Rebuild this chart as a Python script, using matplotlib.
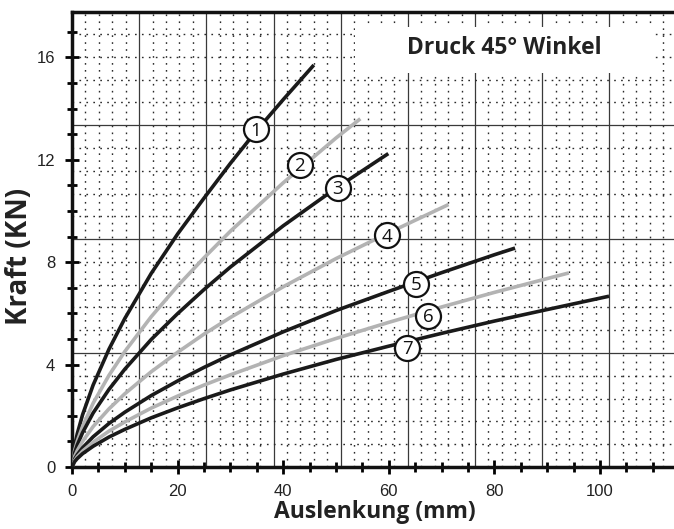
import matplotlib.pyplot as plt
from matplotlib.patches import Rectangle
from matplotlib.ticker import MultipleLocator

# curves (Auslenkung in mm, Kraft in kN)
x1 = [0, 0.5, 1, 2, 4, 7, 10, 15, 20, 25, 30, 35, 40, 45.8]
f1 = [0, 0.83, 1.3, 2.04, 3.2, 4.6, 5.8, 7.56, 9.1, 10.5, 11.86, 13.15, 14.35, 15.7]

x2 = [0, 0.5, 1, 2, 4, 7, 10, 15, 20, 25, 30, 40, 50, 54.6]
f2 = [0, 0.64, 1.01, 1.58, 2.49, 3.58, 4.51, 5.87, 7.07, 8.17, 9.21, 11.1, 12.85, 13.6]

x3 = [0, 0.5, 1, 2, 4, 7, 10, 15, 20, 25, 30, 40, 50, 59.9]
f3 = [0, 0.55, 0.86, 1.34, 2.11, 3.03, 3.82, 4.98, 5.99, 6.93, 7.81, 9.42, 10.89, 12.24]

x4 = [0, 0.5, 1, 2, 4, 7, 10, 15, 20, 25, 30, 40, 50, 60, 71.3]
f4 = [0, 0.41, 0.64, 1.0, 1.58, 2.27, 2.86, 3.72, 4.48, 5.19, 5.84, 7.04, 8.14, 9.15, 10.25]

x5 = [0, 0.5, 1, 2, 4, 7, 10, 15, 20, 25, 30, 40, 50, 60, 70, 80, 83.9]
f5 = [0, 0.31, 0.48, 0.75, 1.18, 1.70, 2.14, 2.79, 3.36, 3.89, 4.38, 5.28, 6.11, 6.86, 7.59, 8.29, 8.55]

x6 = [0, 0.5, 1, 2, 4, 7, 10, 15, 20, 25, 30, 40, 50, 60, 70, 80, 90, 94.1]
f6 = [0, 0.25, 0.40, 0.62, 0.97, 1.40, 1.76, 2.30, 2.77, 3.20, 3.60, 4.35, 5.02, 5.65, 6.25, 6.82, 7.36, 7.58]

x7 = [0, 0.5, 1, 2, 4, 7, 10, 15, 20, 25, 30, 40, 50, 60, 70, 80, 90, 101.7]
f7 = [0, 0.21, 0.33, 0.52, 0.81, 1.17, 1.47, 1.92, 2.31, 2.67, 3.01, 3.63, 4.20, 4.72, 5.22, 5.70, 6.15, 6.67]

kurven = [(x1, f1), (x2, f2), (x3, f3), (x4, f4), (x5, f5), (x6, f6), (x7, f7)]
farben = ['#1a1a1a', '#b3b3b3', '#1a1a1a', '#b3b3b3', '#1a1a1a', '#b3b3b3', '#1a1a1a']

# circled numbers on the curves
label_x = [34.8, 43.1, 50.3, 59.6, 65.2, 67.5, 63.5]
label_f = [13.19, 11.81, 10.91, 9.05, 7.16, 5.9, 4.65]
label_txt = ['1', '2', '3', '4', '5', '6', '7']

titel = 'Druck 45° Winkel'

fig = plt.figure(figsize=(6.74, 5.29), dpi=100)
ax = fig.add_axes([72/674, 62/529, 602/674, 455/529])
ax.set_xlim(0, 114)
ax.set_ylim(0, 17.77)

# graph paper background (independent of the axis ticks)
gx, gy = 12.72 / 5, 4.45 / 5
for i in range(1, 46):
    if i % 5 == 0:
        ax.axvline(i * gx, color='#3a3a3a', lw=0.9, zorder=1)
    else:
        ax.axvline(i * gx, color='#2a2a2a', lw=1.0, ls=(0, (1.2, 3.8)), zorder=1)
for j in range(1, 20):
    if j % 5 == 0:
        ax.axhline(j * gy, color='#3a3a3a', lw=0.9, zorder=1)
    else:
        ax.axhline(j * gy, color='#2a2a2a', lw=1.0, ls=(0, (1.2, 3.8)), zorder=1)

# white box for the title
ax.add_patch(Rectangle((53.6, 15.4), 56.8, 1.8, facecolor='white', edgecolor='none', zorder=2))
ax.text(81.8, 16.35, titel, ha='center', va='center', fontsize=16.5, fontweight='bold',
        family='Open Sans', color='#222222', zorder=3)

for (xs, fs), c in zip(kurven, farben):
    ax.plot(xs, fs, color=c, lw=2.6, solid_capstyle='butt', solid_joinstyle='round', zorder=4)

ax.plot(label_x, label_f, 'o', ms=18, mfc='white', mec='#111111', mew=1.6, zorder=5)
for lx, lf, t in zip(label_x, label_f, label_txt):
    ax.text(lx, lf - 0.05, t, ha='center', va='center', fontsize=13.5,
            family='Open Sans', color='#111111', zorder=6)

ax.xaxis.set_major_locator(MultipleLocator(20))
ax.xaxis.set_minor_locator(MultipleLocator(5))
ax.yaxis.set_major_locator(MultipleLocator(4))
ax.yaxis.set_minor_locator(MultipleLocator(1))
ax.tick_params(which='major', direction='inout', length=10, width=2, pad=7,
               labelsize=12, labelcolor='#222222')
ax.tick_params(which='minor', direction='inout', length=7, width=2)
for lab in ax.get_xticklabels() + ax.get_yticklabels():
    lab.set_family('Liberation Sans')

ax.spines['right'].set_visible(False)
for s in ['left', 'top', 'bottom']:
    ax.spines[s].set_linewidth(2.5)
    ax.spines[s].set_color('#111111')

fig.text(375/674, 1 - 512/529, 'Auslenkung (mm)', ha='center', va='center',
         fontsize=16.5, fontweight='bold', family='Open Sans', color='#222222')
fig.text(20/674, 1 - 256/529, 'Kraft (KN)', ha='center', va='center', rotation=90,
         fontsize=20, fontweight='bold', family='Open Sans', color='#222222')

fig.savefig('out.png', dpi=100)
